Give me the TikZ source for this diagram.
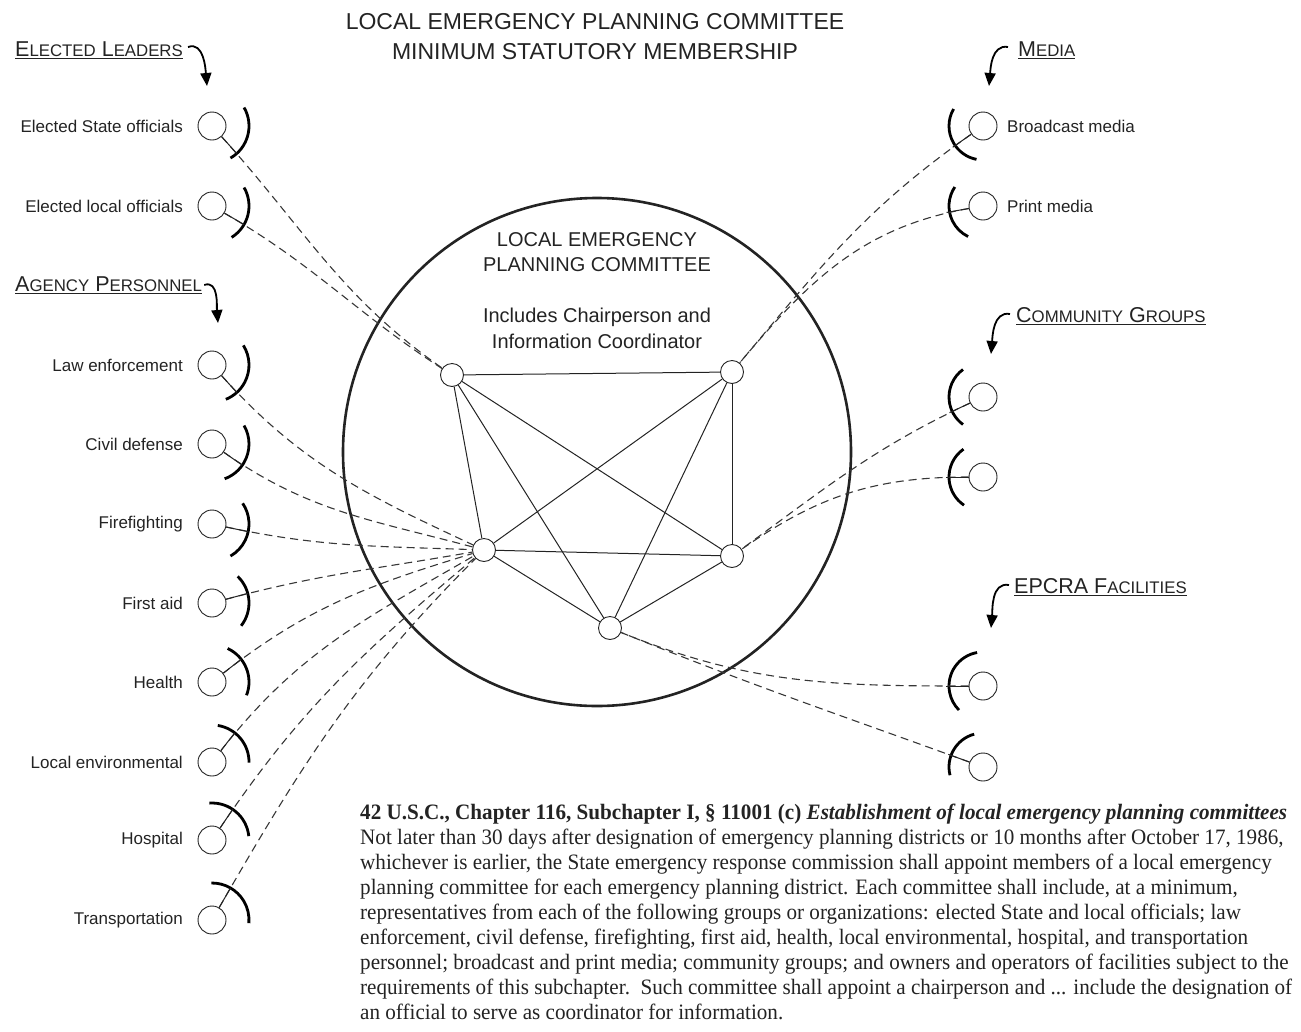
\documentclass[tikz,border=0pt]{standalone}
\usepackage{fontspec}
\setmainfont{Liberation Sans}
\newfontfamily\lawfont[FakeStretch=0.96]{Liberation Serif}
\usetikzlibrary{arrows.meta,calc}
\definecolor{ink}{RGB}{35,35,35}
\definecolor{dashink}{RGB}{55,55,55}
\newcommand{\smcap}[1]{{\fontsize{16.8}{20}\selectfont #1}}

\begin{document}
\begin{tikzpicture}[x=1pt, y=1pt, ink,
    ball/.style={circle, draw, line width=0.9pt, fill=white, minimum size=28pt, inner sep=0pt},
    hub/.style={circle, draw, line width=0.9pt, fill=white, minimum size=23pt, inner sep=0pt},
    socket/.style={line width=2.8pt, black},
    link/.style={dash pattern=on 8pt off 5pt, line width=1.1pt, dashink},
    edge/.style={line width=1pt},
    member/.style={font=\fontsize{17}{20}\selectfont, inner sep=0pt},
    group/.style={font=\fontsize{21.5}{25}\selectfont, inner sep=0pt},
    pointer/.style={line width=1.8pt, black, -{Triangle[length=13pt, width=11pt]}}]

    \useasboundingbox (0,0) rectangle (1301,-1031);

    \node[font=\fontsize{23}{30}\selectfont, align=center] (title) at (595,-37)
        {LOCAL EMERGENCY PLANNING COMMITTEE\\MINIMUM STATUTORY MEMBERSHIP};

    % committee ring
    \node[circle, draw, line width=2.6pt, minimum size=508pt, inner sep=0pt] (lepc) at (597,-452) {};
    \node[font=\fontsize{20}{25}\selectfont, align=center] (lepcname) at (597,-252)
        {LOCAL EMERGENCY\\PLANNING COMMITTEE};
    \node[font=\fontsize{20}{26}\selectfont, align=center] (lepcnote) at (597,-328)
        {Includes Chairperson and\\Information Coordinator};

    % group headings
    \node[group, anchor=west] (leaders) at (15,-50) {\underline{E\smcap{LECTED} L\smcap{EADERS}}};
    \node[group, anchor=west] (agency) at (15,-285) {\underline{A\smcap{GENCY} P\smcap{ERSONNEL}}};
    \node[group, anchor=west] (media) at (1018,-50) {\underline{M\smcap{EDIA}}};
    \node[group, anchor=west] (community) at (1016,-316) {\underline{C\smcap{OMMUNITY} G\smcap{ROUPS}}};
    \node[group, anchor=west] (facilities) at (1014,-587) {\underline{EPCRA F\smcap{ACILITIES}}};

    \coordinate (leadersTip) at (207,-86);
    \coordinate (agencyTip) at (218,-323);
    \coordinate (mediaTip) at (989,-86);
    \coordinate (communityTip) at (991,-354);
    \coordinate (facilitiesTip) at (991,-628);

    \draw[pointer] (leaders.east) ++(5,3) to[out=20, in=95] (leadersTip);
    \draw[pointer] (agency.east) ++(2,0) to[out=20, in=95] (agencyTip);
    \draw[pointer] (media.west) ++(-10,3) to[out=170, in=85] (mediaTip);
    \draw[pointer] (community.west) ++(-6,2) to[out=170, in=85] (communityTip);
    \draw[pointer] (facilities.west) ++(-5,2) to[out=170, in=85] (facilitiesTip);

    % members on the left
    \foreach \name/\y/\txt/\sa/\ea in {state/126/Elected State officials/30/-60,
            local/206/Elected local officials/30/-58,
            law/365/Law enforcement/32/-68,
            civil/444/Civil defense/30/-70,
            fire/524/Firefighting/34/-60,
            aid/603/First aid/46/-38,
            health/682/Health/65/-21,
            env/762/Local environmental/81/-1,
            hosp/840/Hospital/94/6,
            trans/920/Transportation/91/-5}{
            \node[ball] (\name) at (212,-\y) {};
            \node[member, anchor=east] (t\name) at (183,-\y) {\txt};
            \draw[socket] (\name.center) ++(\sa:37) arc[start angle=\sa, end angle=\ea, radius=37];
        }

    % members on the right
    \foreach \name/\y/\sa/\ea in {bcast/126/150/259, print/206/146/244,
            comA/397/126/234, comB/477/125/236,
            facA/686/100/225, facB/767/105/194}{
            \node[ball] (\name) at (983,-\y) {};
            \draw[socket] (\name.center) ++(\sa:34) arc[start angle=\sa, end angle=\ea, radius=34];
        }
    \node[member, anchor=west] (tbcast) at (1007,-126) {Broadcast media};
    \node[member, anchor=west] (tprint) at (1007,-206) {Print media};

    % committee members
    \node[hub] (hubNW) at (452,-375) {};
    \node[hub] (hubNE) at (732,-372) {};
    \node[hub] (hubW) at (484,-550) {};
    \node[hub] (hubE) at (732,-556) {};
    \node[hub] (hubS) at (610,-628) {};

    \foreach \from/\to/\o/\i in {state/hubNW/-48/145, local/hubNW/-30/147,
            law/hubW/-48/155, civil/hubW/-35/165, fire/hubW/-12/178,
            aid/hubW/15/-170, health/hubW/38/-163, env/hubW/52/-150,
            hosp/hubW/56/-140, trans/hubW/60/-135,
            bcast/hubNE/215/50, print/hubNE/190/50,
            comA/hubE/205/36, comB/hubE/180/35,
            facA/hubS/180/-22, facB/hubS/160/-22}{
            \draw[link] (\from) to[out=\o, in=\i] (\to);
            \draw[edge] (\from.\o) -- ($(\from.center)+(\o:37)$);
        }

    \foreach \a/\b in {NW/NE, NW/W, NW/E, NW/S, NE/W, NE/E, NE/S, W/E, W/S, E/S}{
            \draw[edge] (hub\a) -- (hub\b);
        }

    \node[anchor=north west, align=left, inner sep=0pt,
        font=\fontsize{22}{25}\selectfont\lawfont] (statute) at (360,-804)
        {\textbf{42 U.S.C., Chapter 116, Subchapter I, § 11001 (c) \textit{Establishment of local emergency planning committees}}\\
        Not later than 30 days after designation of emergency planning districts or 10 months after October 17, 1986,\\
        whichever is earlier, the State emergency response commission shall appoint members of a local emergency\\
        planning committee for each emergency planning district. Each committee shall include, at a minimum,\\
        representatives from each of the following groups or organizations: elected State and local officials; law\\
        enforcement, civil defense, firefighting, first aid, health, local environmental, hospital, and transportation\\
        personnel; broadcast and print media; community groups; and owners and operators of facilities subject to the\\
        requirements of this subchapter.\ \ Such committee shall appoint a chairperson and ... include the designation of\\
        an official to serve as coordinator for information.};

\end{tikzpicture}
\end{document}
